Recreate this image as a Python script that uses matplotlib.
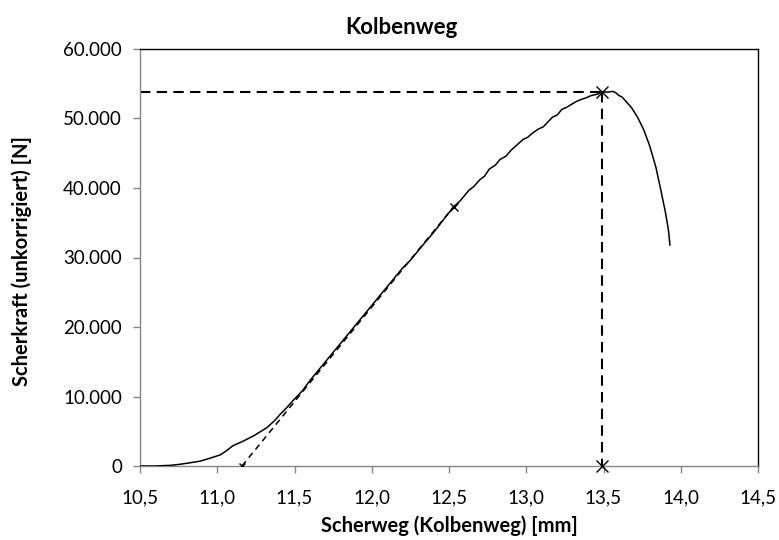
import matplotlib
matplotlib.use("Agg")
import matplotlib.pyplot as plt
from matplotlib.ticker import FuncFormatter

# Measured shear curve: piston travel [mm] vs. shear force [N]
weg = [10.50, 10.60, 10.70, 10.76, 10.82, 10.89, 10.95, 11.02, 11.06, 11.10,
       11.17, 11.24, 11.32, 11.37, 11.41, 11.45, 11.49, 11.55, 11.60, 11.70,
       11.80, 11.90, 12.00, 12.10, 12.20, 12.25, 12.32, 12.40, 12.47, 12.53,
       12.57, 12.60, 12.63, 12.66, 12.70, 12.73, 12.76, 12.80, 12.83, 12.87,
       12.90, 12.94, 12.98, 13.01, 13.04, 13.08, 13.11, 13.14, 13.17, 13.20,
       13.23, 13.26, 13.29, 13.32, 13.35, 13.39, 13.42, 13.46, 13.49, 13.53,
       13.56, 13.58, 13.60, 13.62, 13.64, 13.68, 13.72, 13.76, 13.80, 13.84,
       13.87, 13.90, 13.92, 13.93]
kraft = [0, 0, 100, 250, 450, 700, 1100, 1600, 2200, 2900,
         3600, 4400, 5500, 6500, 7500, 8400, 9400, 10800, 12300, 15000,
         17700, 20400, 23100, 25800, 28500, 29600, 31500, 33600, 35600, 37300,
         38100, 38900, 39700, 40200, 41200, 41700, 42700, 43300, 44100, 44600,
         45400, 46200, 47000, 47300, 47900, 48500, 48800, 49500, 50200, 50500,
         51300, 51600, 52000, 52400, 52700, 53000, 53300, 53500, 53800, 53800,
         53900, 53700, 53300, 53100, 52600, 51600, 50200, 48400, 46000, 42900,
         39800, 36600, 34000, 31800]

# Tangent construction and maximum
tangente_x = [11.16, 12.53]
tangente_y = [0, 37300]
fmax_x = 13.49
fmax_y = 53800

xticks = [10.5, 11.0, 11.5, 12.0, 12.5, 13.0, 13.5, 14.0, 14.5]
yticks = [0, 10000, 20000, 30000, 40000, 50000, 60000]

plt.rcParams['font.family'] = ['Lato', 'DejaVu Sans']

fig = plt.figure(figsize=(7.79, 5.40), dpi=100)
ax = fig.add_axes([140/779, 1 - 466/540, 618/779, 417/540])

ax.plot(weg, kraft, color='black', lw=1.1, zorder=3)
ax.plot(tangente_x, tangente_y, color='black', lw=1.1, ls=(0, (4, 3)), zorder=2)
ax.plot(tangente_x[1:], tangente_y[1:], marker='x', color='black', ms=6, mew=1, ls='none', zorder=4)
ax.plot(tangente_x[:1], tangente_y[:1], marker='x', color='black', ms=4, mew=1, ls='none', zorder=4)

ax.plot([10.5, fmax_x], [fmax_y, fmax_y], color='black', lw=1.5, ls=(0, (5, 3)), zorder=2)
ax.plot([fmax_x, fmax_x], [fmax_y, 0], color='black', lw=1.5, ls=(0, (5, 3)), zorder=2)
ax.plot([fmax_x, fmax_x], [fmax_y, 0], marker='x', color='black', ms=8, mew=1, ls='none', zorder=4, clip_on=False)

ax.set_xlim(10.5, 14.5)
ax.set_ylim(0, 60000)
ax.set_xticks(xticks)
ax.set_yticks(yticks)
ax.xaxis.set_major_formatter(FuncFormatter(lambda v, p: f"{v:.1f}".replace('.', ',')))
ax.yaxis.set_major_formatter(FuncFormatter(lambda v, p: "0" if v == 0 else f"{v:,.0f}".replace(',', '.')))

for s in ['top', 'right']:
    ax.spines[s].set_color('black')
    ax.spines[s].set_linewidth(1.0)
for s in ['left', 'bottom']:
    ax.spines[s].set_color('#868686')
    ax.spines[s].set_linewidth(1.0)

ax.tick_params(axis='both', direction='out', length=5, width=1, color='#868686',
               labelsize=13.5, labelcolor='black')
ax.tick_params(axis='x', pad=12)
ax.tick_params(axis='y', pad=8)

fig.text(401/779, 1 - 27/540, 'Kolbenweg', ha='center', va='center',
         fontsize=16, fontweight='bold')
fig.text(449/779, 1 - 526/540, 'Scherweg (Kolbenweg) [mm]', ha='center', va='center',
         fontsize=14.5, fontweight='bold')
fig.text(22/779, 1 - 261/540, 'Scherkraft (unkorrigiert) [N]', ha='center', va='center',
         rotation=90, fontsize=14.5, fontweight='bold')

fig.savefig('out.png', dpi=100)
